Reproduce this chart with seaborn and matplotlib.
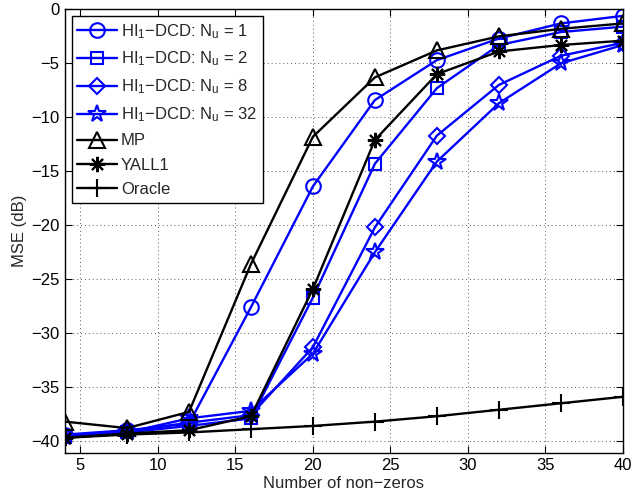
import matplotlib
matplotlib.use("Agg")
import matplotlib.pyplot as plt
import seaborn as sns
import pandas as pd

# number of non-zeros on the x axis
n_nonzeros = [4, 8, 12, 16, 20, 24, 28, 32, 36, 40]

# MSE in dB
mse_nu1 = [-39.4, -39.0, -38.4, -27.6, -16.4, -8.4, -4.7, -2.7, -1.3, -0.6]
mse_nu2 = [-39.6, -39.2, -38.6, -37.9, -26.7, -14.3, -7.3, -3.3, -2.1, -1.6]
mse_nu8 = [-39.5, -39.1, -38.3, -37.6, -31.3, -20.2, -11.7, -7.0, -4.3, -3.1]
mse_nu32 = [-39.6, -39.2, -37.9, -37.2, -31.9, -22.5, -14.1, -8.7, -5.0, -3.3]
mse_mp = [-38.2, -38.8, -37.3, -23.6, -11.8, -6.3, -3.8, -2.5, -1.8, -1.3]
mse_yall1 = [-39.7, -39.3, -39.0, -37.7, -25.9, -12.1, -6.0, -3.9, -3.3, -2.9]
mse_oracle = [-39.7, -39.4, -39.2, -38.9, -38.6, -38.2, -37.7, -37.1, -36.5, -35.9]

labels = [
    r"HI$_1$−DCD: N$_u$ = 1",
    r"HI$_1$−DCD: N$_u$ = 2",
    r"HI$_1$−DCD: N$_u$ = 8",
    r"HI$_1$−DCD: N$_u$ = 32",
    "MP",
    "YALL1",
    "Oracle",
]

sns.set_style("ticks")
plt.rcParams["font.family"] = ["Liberation Sans", "DejaVu Sans"]
plt.rcParams["mathtext.fontset"] = "custom"
plt.rcParams["mathtext.rm"] = "Liberation Sans"
plt.rcParams["mathtext.default"] = "regular"

fig = plt.figure(figsize=(6.31, 4.95), dpi=100)
ax = fig.add_axes([0.103, 0.085, 0.884, 0.896])

series = [mse_nu1, mse_nu2, mse_nu8, mse_nu32, mse_mp, mse_yall1, mse_oracle]
colors = ["blue", "blue", "blue", "blue", "black", "black", "black"]
markers = ["o", "s", "D", "*", "^", (8, 2, 0), "+"]
msizes = [10.5, 9, 8, 13, 11, 11, 13]

for vals, lab, col, mk, ms in zip(series, labels, colors, markers, msizes):
    df = pd.DataFrame({"k": n_nonzeros, "mse": vals})
    sns.lineplot(data=df, x="k", y="mse", ax=ax, color=col, label=lab,
                 marker=mk, markersize=ms, markerfacecolor="none",
                 markeredgecolor=col, markeredgewidth=1.5, linewidth=1.7)

ax.set_xlim(4, 40)
ax.set_ylim(-41.1, 0)
ax.set_xticks([5, 10, 15, 20, 25, 30, 35, 40])
ax.set_yticks(range(-40, 1, 5))
ax.tick_params(direction="in", top=True, right=True, length=5, width=0.8,
               labelsize=12, colors="black", pad=4)
ax.grid(True, linestyle=(0, (1, 3)), color="0.35", linewidth=0.7)
for sp in ax.spines.values():
    sp.set_color("black")
    sp.set_linewidth(1.0)

ax.set_xlabel("Number of non−zeros", fontsize=12, labelpad=2)
ax.set_ylabel("MSE (dB)", fontsize=12, labelpad=3)

leg = ax.legend(loc="upper left", fontsize=12, fancybox=False, framealpha=1,
                edgecolor="black", handlelength=2.4, handletextpad=0.2,
                borderaxespad=0.4, borderpad=0.35, labelspacing=0.55)
leg.get_frame().set_linewidth(1.0)

fig.savefig("out.png", dpi=100)
